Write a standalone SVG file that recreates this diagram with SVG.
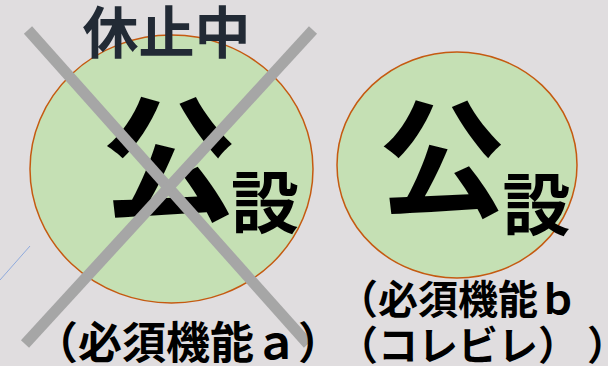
<svg xmlns="http://www.w3.org/2000/svg" width="608" height="366" viewBox="0 0 608 366">
<style>
.bg{fill:#E0DDDF}
.circ{fill:#C5E0B4;stroke:#C55A11;stroke-width:1.5}
.t{font-family:"Noto Sans CJK JP","Noto Sans",sans-serif;font-weight:bold;fill:#000}
.x{stroke:#A6A6A6;stroke-width:11;stroke-linecap:butt}
</style>
<rect class="bg" x="0" y="0" width="608" height="366"/>
<g id="connectors">
<line x1="0" y1="280" x2="30" y2="246" stroke="#8FAADC" stroke-width="1"/>
</g>
<g id="node-a">
<ellipse class="circ" cx="171.5" cy="169" rx="141.5" ry="134"/>
<text class="t" x="169" y="210" font-size="136" text-anchor="middle">公</text>
<text class="t" x="265" y="228" font-size="68" text-anchor="middle">設</text>
<line class="x" x1="28" y1="30" x2="308" y2="344"/>
<line class="x" x1="313" y1="30" x2="25" y2="344"/>
<text class="t" x="166.5" y="53" font-size="56" text-anchor="middle" style="fill:#222A35">休止中</text>
<text class="t" x="188" y="359" font-size="44" text-anchor="middle">（必須機能ａ）</text>
</g>
<g id="node-b">
<ellipse class="circ" cx="457" cy="165" rx="120" ry="113"/>
<text class="t" x="442" y="207" font-size="128" text-anchor="middle">公</text>
<text class="t" x="536.5" y="230" font-size="68" text-anchor="middle">設</text>
<text class="t" x="338" y="314" font-size="40">（必須機能ｂ</text>
<text class="t" x="338" y="360" font-size="40">（コレビレ）<tspan x="587">）</tspan></text>
</g>
</svg>
